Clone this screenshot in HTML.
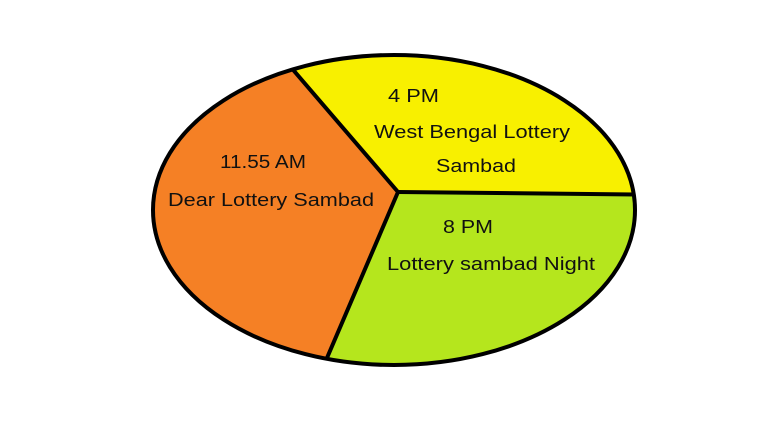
<!DOCTYPE html>
<html><head><style>html,body{margin:0;padding:0;background:#fff}svg{display:block}</style></head>
<body>
<svg width="780" height="440" viewBox="0 0 780 440" xmlns="http://www.w3.org/2000/svg">
<defs><clipPath id="c"><ellipse cx="394" cy="210" rx="241" ry="155"/></clipPath></defs>
<g clip-path="url(#c)">
<polygon points="398,192 228,-6 0,-6 0,440 297,428" fill="#f58025"/>
<polygon points="398,192 228,-6 780,-6 780,196 636,194" fill="#f8f000"/>
<polygon points="398,192 636,194 780,196 780,440 297,428" fill="#b5e61d"/>
<g stroke="#000" stroke-width="4" stroke-linejoin="round" fill="none">
<polyline points="228,-6 398,192 297,428"/>
<line x1="398" y1="192" x2="780" y2="196"/>
</g>
</g>
<ellipse cx="394" cy="210" rx="241" ry="155" fill="none" stroke="#000" stroke-width="4"/>
<g font-family="Liberation Sans, sans-serif" font-size="18.5" fill="#111">
<text x="388" y="102" textLength="51" lengthAdjust="spacingAndGlyphs">4 PM</text>
<text x="374" y="138" textLength="196" lengthAdjust="spacingAndGlyphs">West Bengal Lottery</text>
<text x="436" y="172" textLength="80" lengthAdjust="spacingAndGlyphs">Sambad</text>
<text x="220" y="168" textLength="86" lengthAdjust="spacingAndGlyphs">11.55 AM</text>
<text x="168" y="206" textLength="206" lengthAdjust="spacingAndGlyphs">Dear Lottery Sambad</text>
<text x="443" y="233" textLength="50" lengthAdjust="spacingAndGlyphs">8 PM</text>
<text x="387" y="270" textLength="208" lengthAdjust="spacingAndGlyphs">Lottery sambad Night</text>
</g>
</svg>
</body></html>
